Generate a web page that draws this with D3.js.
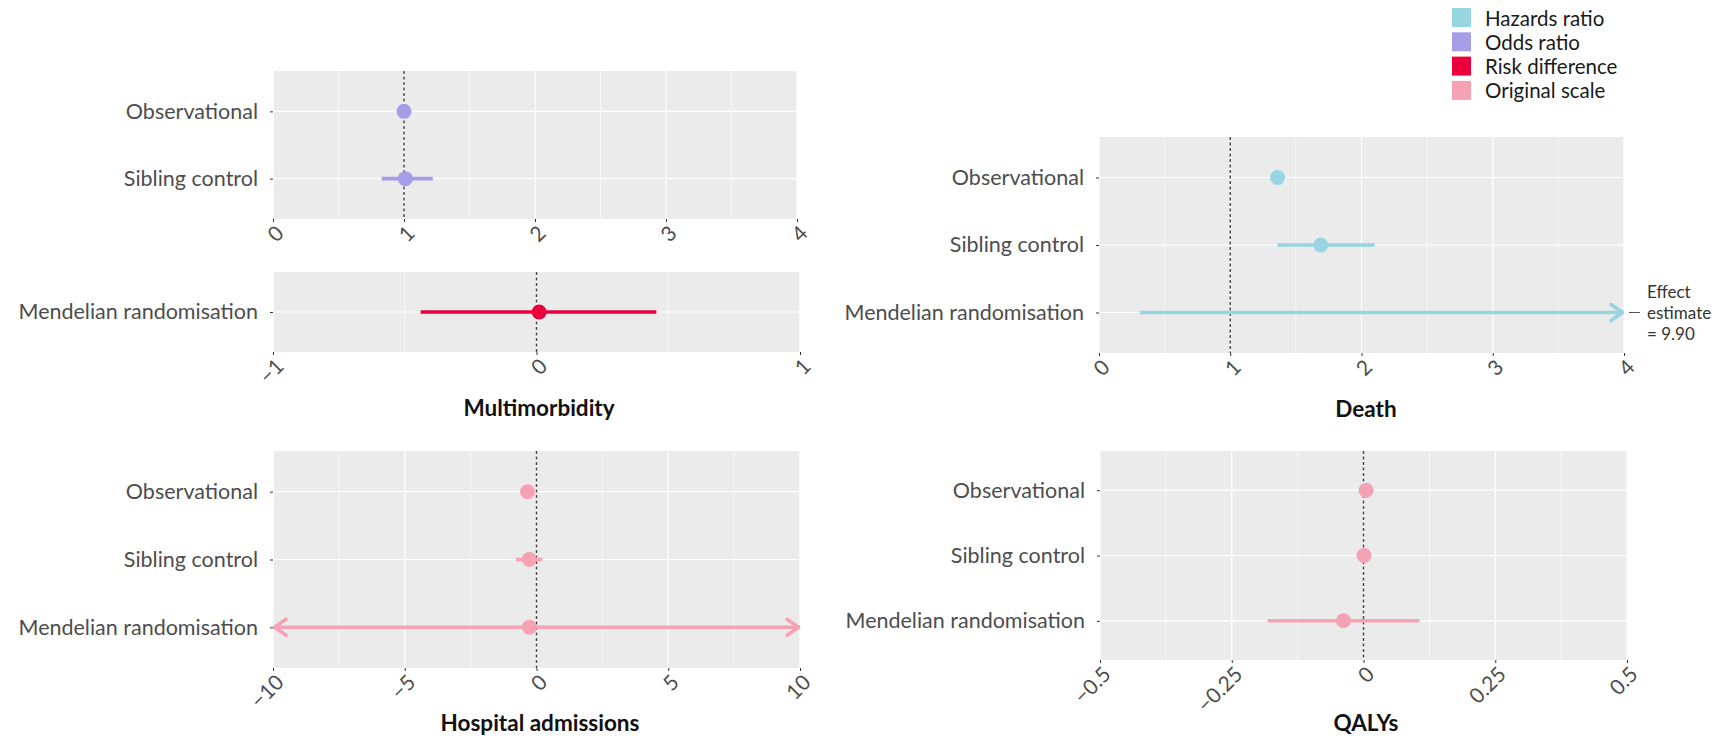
<!DOCTYPE html>
<html>
<head>
<meta charset="utf-8">
<script src="https://cdn.jsdelivr.net/npm/d3@7"></script>
<style>
  html, body { margin: 0; padding: 0; background: #fff; }
  svg { display: block; font-family: Lato, "Noto Sans", sans-serif; }
</style>
</head>
<body>
<svg id="chart" width="1722" height="736"></svg>
<script>
// ---- Data -------------------------------------------------------------
const scaleTypes   = ["Hazards ratio", "Odds ratio", "Risk difference", "Original scale"];
const scaleColours = ["#97d6e0", "#a69de7", "#ea003b", "#f5a2b5"];

const methodsAll = ["Observational", "Sibling control", "Mendelian randomisation"];
const methodsObsSib = ["Observational", "Sibling control"];
const methodsMR = ["Mendelian randomisation"];

// Multimorbidity, odds ratio (observational & sibling designs)
const multiOREst = [1.00, 1.01];
const multiORLow = [0.97, 0.83];
const multiORHigh = [1.03, 1.22];
const multiORTicks = [0, 1, 2, 3, 4];

// Multimorbidity, risk difference (Mendelian randomisation)
const multiRDEst = [0.01];
const multiRDLow = [-0.44];
const multiRDHigh = [0.455];
const multiRDTicks = [-1, 0, 1];

// Death, hazards ratio
const deathEst = [1.36, 1.69, 9.90];
const deathLow = [1.31, 1.36, 0.31];
const deathHigh = [1.41, 2.10, 316];
const deathTicks = [0, 1, 2, 3, 4];

// Hospital admissions, original scale
const hospEst = [-0.34, -0.27, -0.27];
const hospLow = [-0.45, -0.78, -27.0];
const hospHigh = [-0.23, 0.22, 26.5];
const hospTicks = [-10, -5, 0, 5, 10];

// QALYs, original scale
const qalyEst = [0.005, 0.001, -0.038];
const qalyLow = [0.000, -0.004, -0.182];
const qalyHigh = [0.010, 0.006, 0.106];
const qalyTicks = [-0.5, -0.25, 0, 0.25, 0.5];

// ---- Drawing ----------------------------------------------------------
const svg = d3.select("#chart");
const colourOf = d3.scaleOrdinal().domain(scaleTypes).range(scaleColours);
const fmt = d => String(d).replace("-", "\u2212");

function panel(cfg) {
  const { x0, x1, y0, y1, domain, ticks, minor, ref, methods, est, low, high, type } = cfg;
  const col = colourOf(type);
  const x = d3.scaleLinear().domain(domain).range([x0, x1]);
  const y = d3.scalePoint().domain(methods).range([y0, y1]).padding(0.6);
  const g = svg.append("g");

  g.append("rect").attr("x", x0).attr("y", y0)
    .attr("width", x1 - x0).attr("height", y1 - y0).attr("fill", "#ebebeb");

  // minor / major grid
  g.selectAll(".minor").data(minor).join("line")
    .attr("x1", d => x(d)).attr("x2", d => x(d)).attr("y1", y0).attr("y2", y1)
    .attr("stroke", "#fff").attr("stroke-width", 0.6);
  g.selectAll(".major").data(ticks).join("line")
    .attr("x1", d => x(d)).attr("x2", d => x(d)).attr("y1", y0).attr("y2", y1)
    .attr("stroke", "#fff").attr("stroke-width", 1.2);
  g.selectAll(".hgrid").data(methods).join("line")
    .attr("x1", x0).attr("x2", x1).attr("y1", d => y(d)).attr("y2", d => y(d))
    .attr("stroke", "#fff").attr("stroke-width", 1.2);

  // reference line at the null value
  g.append("line").attr("x1", x(ref)).attr("x2", x(ref)).attr("y1", y0).attr("y2", y1)
    .attr("stroke", "#444").attr("stroke-width", 1.4).attr("stroke-dasharray", "3,2.5");

  // x axis
  const xa = g.append("g").attr("transform", `translate(0,${y1})`)
    .call(d3.axisBottom(x).tickValues(ticks).tickSize(3).tickFormat(fmt));
  xa.select(".domain").remove();
  xa.selectAll(".tick line").attr("stroke", "#333");
  xa.selectAll(".tick text")
    .attr("font-size", 21).attr("fill", "#4d4d4d").attr("font-family", "Lato, sans-serif")
    .attr("text-anchor", "end").attr("x", 0).attr("y", 0).attr("dy", "0.72em")
    .attr("transform", "translate(1,5) rotate(-45)");

  // y axis
  const ya = g.append("g").attr("transform", `translate(${x0},0)`)
    .call(d3.axisLeft(y).tickSize(3).tickPadding(12));
  ya.select(".domain").remove();
  ya.selectAll(".tick line").attr("stroke", "#333");
  ya.selectAll(".tick text")
    .attr("font-size", 21.5).attr("fill", "#4d4d4d").attr("font-family", "Lato, sans-serif");

  // confidence intervals (clipped at the axis limits with arrows)
  const [d0, d1] = domain;
  methods.forEach((m, i) => {
    const lo = Math.max(low[i], d0), hi = Math.min(high[i], d1);
    const yy = y(m);
    g.append("line").attr("x1", x(lo)).attr("x2", x(hi)).attr("y1", yy).attr("y2", yy)
      .attr("stroke", col).attr("stroke-width", 3.6);
    const arrow = (tip, dir) => g.append("path")
      .attr("d", `M${tip - dir * 13},${yy - 8}L${tip - dir * 1.5},${yy}L${tip - dir * 13},${yy + 8}`)
      .attr("fill", "none").attr("stroke", col).attr("stroke-width", 3.6)
      .attr("stroke-linecap", "round").attr("stroke-linejoin", "round");
    if (low[i] < d0) arrow(x(d0), -1);
    if (high[i] > d1) arrow(x(d1), 1);
    if (est[i] >= d0 && est[i] <= d1) {
      g.append("circle").attr("cx", x(est[i])).attr("cy", yy).attr("r", 7.5).attr("fill", col);
    }
  });
  return { x, y, g };
}

function title(text, cx, cy) {
  svg.append("text").attr("x", cx).attr("y", cy).attr("text-anchor", "middle")
    .attr("dominant-baseline", "central").attr("font-size", 22.5).attr("font-weight", 700)
    .attr("fill", "#111").text(text);
}

const step = (a, b, s) => d3.range(a, b + 1e-9, s);

// Multimorbidity
panel({ x0: 273, x1: 797, y0: 71, y1: 219, domain: [0, 4], ticks: multiORTicks,
  minor: step(0.5, 3.5, 1), ref: 1, methods: methodsObsSib,
  est: multiOREst, low: multiORLow, high: multiORHigh, type: "Odds ratio" });
panel({ x0: 273, x1: 800, y0: 272, y1: 352, domain: [-1, 1], ticks: multiRDTicks,
  minor: [-0.5, 0.5], ref: 0, methods: methodsMR,
  est: multiRDEst, low: multiRDLow, high: multiRDHigh, type: "Risk difference" });
title("Multimorbidity", 539, 407);

// Death
const death = panel({ x0: 1099, x1: 1624, y0: 137, y1: 353, domain: [0, 4], ticks: deathTicks,
  minor: step(0.5, 3.5, 1), ref: 1, methods: methodsAll,
  est: deathEst, low: deathLow, high: deathHigh, type: "Hazards ratio" });
title("Death", 1366, 408);

// note for the off-scale Mendelian randomisation estimate
{
  const yy = death.y("Mendelian randomisation");
  const xr = death.x(4);
  svg.append("line").attr("x1", xr + 5).attr("x2", xr + 16).attr("y1", yy).attr("y2", yy)
    .attr("stroke", "#555").attr("stroke-width", 1);
  const t = svg.append("text").attr("x", xr + 24).attr("y", yy)
    .attr("font-size", 17).attr("fill", "#333");
  ["Effect", "estimate", "= " + deathEst[2].toFixed(2)].forEach((s, i) => {
    t.append("tspan").attr("x", xr + 23).attr("y", yy + (i - 1) * 21)
      .attr("dominant-baseline", "central").text(s);
  });
}

// Hospital admissions
panel({ x0: 273, x1: 800, y0: 451, y1: 668, domain: [-10, 10], ticks: hospTicks,
  minor: [-7.5, -2.5, 2.5, 7.5], ref: 0, methods: methodsAll,
  est: hospEst, low: hospLow, high: hospHigh, type: "Original scale" });
title("Hospital admissions", 540, 722);

// QALYs
panel({ x0: 1100, x1: 1627, y0: 451, y1: 660, domain: [-0.5, 0.5], ticks: qalyTicks,
  minor: [-0.375, -0.125, 0.125, 0.375], ref: 0, methods: methodsAll,
  est: qalyEst, low: qalyLow, high: qalyHigh, type: "Original scale" });
title("QALYs", 1366, 722);

// Legend
const leg = svg.append("g").attr("transform", "translate(1452,8)");
scaleTypes.forEach((s, i) => {
  const r = leg.append("g").attr("transform", `translate(0,${i * 24.3})`);
  r.append("rect").attr("width", 19).attr("height", 19).attr("fill", colourOf(s));
  r.append("text").attr("x", 33).attr("y", 9.5).attr("dominant-baseline", "central")
    .attr("font-size", 20.5).attr("fill", "#1a1a1a").text(s);
});
</script>
</body>
</html>
